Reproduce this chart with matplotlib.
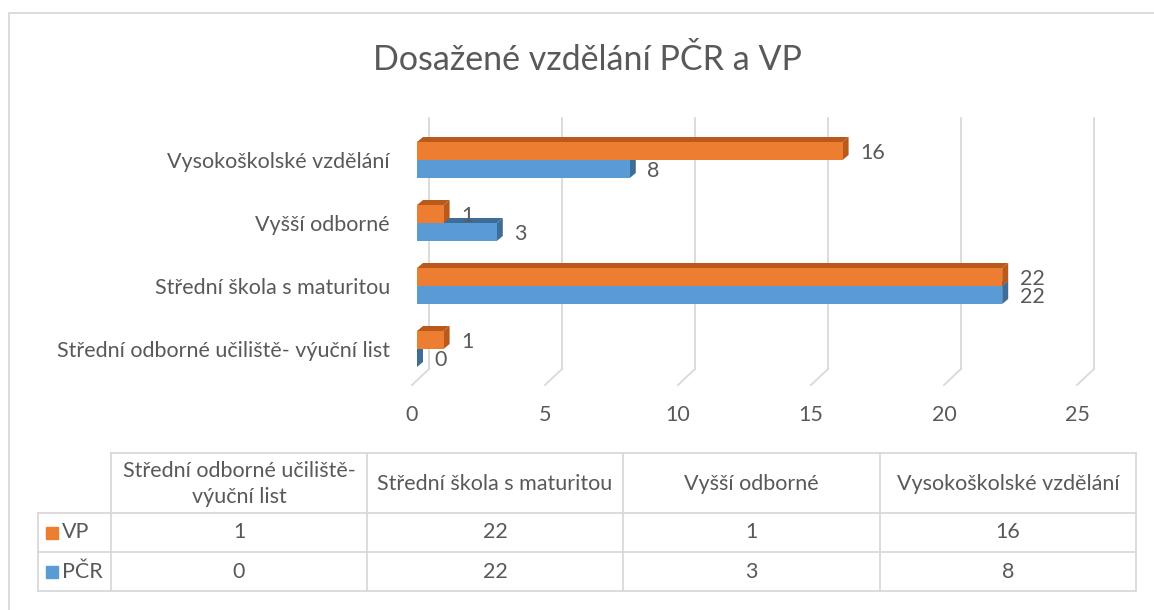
import matplotlib
matplotlib.use("Agg")
import matplotlib.pyplot as plt
from matplotlib.lines import Line2D
from matplotlib.patches import Rectangle

# data (bottom to top in the chart)
categories = ["Střední odborné učiliště- výuční list", "Střední škola s maturitou",
              "Vyšší odborné", "Vysokoškolské vzdělání"]
table_headers = ["Střední odborné učiliště-\nvýuční list", "Střední škola s maturitou",
                 "Vyšší odborné", "Vysokoškolské vzdělání"]
series_names = ["VP", "PČR"]
vp = [1, 22, 1, 16]
pcr = [0, 22, 3, 8]
x_ticks = [0, 5, 10, 15, 20, 25]
title = "Dosažené vzdělání PČR a VP"

W, H = 1154, 610
TXT = "#595959"
GRID = "#D9D9D9"
ORANGE, ORANGE_D = "#ED7D31", "#B9591C"
BLUE, BLUE_D = "#5B9BD5", "#3E6D98"
FS = 15.5

plt.rcParams['font.family'] = ['Lato', 'DejaVu Sans']

fig = plt.figure(figsize=(W / 100, H / 100), dpi=100)

# overlay axes in pixel coordinates for frame + table
ov = fig.add_axes([0, 0, 1, 1])
ov.set_xlim(0, W)
ov.set_ylim(H, 0)
ov.axis("off")
ov.add_line(Line2D([9, 9, W], [H, 13, 13], color=GRID, lw=1.3))

ov.text(587, 60, title, ha="center", va="center", fontsize=24.5, color=TXT)

# chart axes: x px = 417 + 26.6 * value ; y px = 349 - 63 * k
PXU, X0 = 26.6, 417
ROW, Y0 = 63, 349
ax_l, ax_r, ax_t, ax_b = 380, 1120, 105, 395
ax = fig.add_axes([ax_l / W, 1 - ax_b / H, (ax_r - ax_l) / W, (ax_b - ax_t) / H])
ax.set_xlim((ax_l - X0) / PXU, (ax_r - X0) / PXU)
ax.set_ylim((Y0 - ax_b) / ROW, (Y0 - ax_t) / ROW)
ax.axis("off")

k_front = (Y0 - 385) / ROW
k_back = (Y0 - 369) / ROW
k_top = (Y0 - 118) / ROW
g_back = 12 / PXU
g_front = -5 / PXU
for t in x_ticks:
    ax.plot([t + g_back, t + g_back], [k_back, k_top], color=GRID, lw=1.3, zorder=0)
    ax.plot([t + g_front, t + g_back], [k_front, k_back], color=GRID, lw=1.3, zorder=0)
    ax.text(t + g_front, (Y0 - 415) / ROW, str(t), ha="center", va="center",
            fontsize=FS, color=TXT)

bh = 18 / ROW
ddx, ddy = 6 / PXU, 5 / ROW
ypos = list(range(len(categories)))


def bar3d(vals, offset, face, dark, z):
    bottoms = [y + offset for y in ypos]
    for v, b in zip(vals, bottoms):
        top = b + bh
        # top face
        ax.fill([0, v, v + ddx, ddx], [top, top, top + ddy, top + ddy],
                color=dark, lw=0, zorder=z)
        # right face
        ax.fill([v, v + ddx, v + ddx, v], [b, b + ddy, top + ddy, top],
                color=dark, lw=0, zorder=z)
    ax.barh([b + bh / 2 for b in bottoms], vals, height=bh, left=0,
            color=face, zorder=z + 0.5)
    for v, b in zip(vals, bottoms):
        ax.annotate(str(v), xy=(v, b + bh / 2), xytext=(12.5, -1.5),
                    textcoords="offset points", ha="left", va="center",
                    fontsize=FS, color=TXT, zorder=z + 1)


bar3d(pcr, -bh, BLUE, BLUE_D, 2)
bar3d(vp, 0, ORANGE, ORANGE_D, 4)

for y, c in zip(ypos, categories):
    ax.text((390 - X0) / PXU, y - 2 / ROW, c, ha="right", va="center",
            fontsize=FS, color=TXT)

# data table
col_x = [38, 111, 367, 623, 880, 1136]
row_y = [453, 513, 552, 591]
ov.add_line(Line2D([col_x[1], col_x[-1]], [row_y[0], row_y[0]], color=GRID, lw=1.3))
for yy in row_y[1:]:
    ov.add_line(Line2D([col_x[0], col_x[-1]], [yy, yy], color=GRID, lw=1.3))
ov.add_line(Line2D([col_x[0], col_x[0]], [row_y[1], row_y[-1]], color=GRID, lw=1.3))
for xx in col_x[1:]:
    ov.add_line(Line2D([xx, xx], [row_y[0], row_y[-1]], color=GRID, lw=1.3))

for i, h in enumerate(table_headers):
    cx = (col_x[i + 1] + col_x[i + 2]) / 2
    ov.text(cx, (row_y[0] + row_y[1]) / 2 + 1, h, ha="center", va="center",
            fontsize=FS, color=TXT, linespacing=1.35)

for r, (name, vals, col) in enumerate(zip(series_names, [vp, pcr], [ORANGE, BLUE])):
    cy = (row_y[r + 1] + row_y[r + 2]) / 2
    ov.add_patch(Rectangle((46, cy - 6), 12, 12, color=col))
    ov.text(62, cy, name, ha="left", va="center", fontsize=FS, color=TXT)
    for i, v in enumerate(vals):
        cx = (col_x[i + 1] + col_x[i + 2]) / 2
        ov.text(cx, cy, str(v), ha="center", va="center", fontsize=FS, color=TXT)

fig.savefig("out.png", dpi=100)
